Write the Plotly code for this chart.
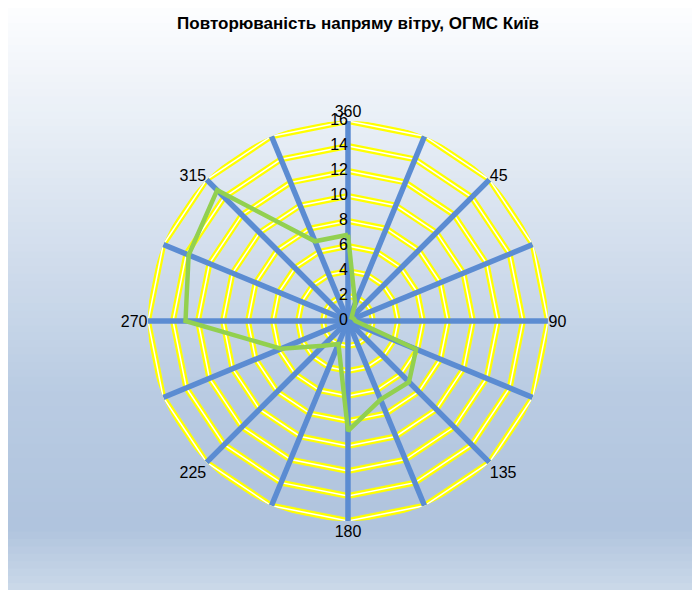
import plotly.graph_objects as go

directions = [0, 22.5, 45, 67.5, 90, 112.5, 135, 157.5, 180, 202.5, 225, 247.5, 270, 292.5, 315, 337.5]
frequency = [6.9, 1.5, 0.4, 0.5, 0.6, 5.9, 6.9, 6.8, 8.8, 2.0, 2.8, 5.8, 13.0, 13.8, 14.8, 6.9]
label_angles = [0, 45, 90, 135, 180, 225, 270, 315]
label_text = ["360", "45", "90", "135", "180", "225", "270", "315"]
rings = [2, 4, 6, 8, 10, 12, 14, 16]
radial_labels = [0, 2, 4, 6, 8, 10, 12, 14, 16]

fig = go.Figure()

# background gradient built from thin bands
stops = [(0.0, (207, 220, 235)), (0.12, (176, 196, 222)), (0.35, (186, 204, 227)), (1.0, (253, 254, 255))]
n = 80
for i in range(n):
    y0 = i / n
    y1 = (i + 1) / n
    t = (y0 + y1) / 2
    for (a, ca), (b, cb) in zip(stops[:-1], stops[1:]):
        if a <= t <= b:
            f = (t - a) / (b - a)
            c = tuple(int(ca[k] + (cb[k] - ca[k]) * f) for k in range(3))
    fig.add_shape(type="rect", xref="paper", yref="paper", x0=-0.02, x1=1.02, y0=y0, y1=y1 + 0.002,
                  fillcolor="rgb(%d,%d,%d)" % c, line_width=0, layer="below")

ring_theta = directions + [directions[0]]
for r in rings:
    fig.add_trace(go.Scatterpolar(r=[r] * len(ring_theta), theta=ring_theta, mode="lines",
                                  line=dict(color="#ffff00", width=6), hoverinfo="skip", showlegend=False))
    fig.add_trace(go.Scatterpolar(r=[r] * len(ring_theta), theta=ring_theta, mode="lines",
                                  line=dict(color="white", width=1.5), hoverinfo="skip", showlegend=False))

for d in directions:
    fig.add_trace(go.Scatterpolar(r=[0, 16], theta=[d, d], mode="lines",
                                  line=dict(color="#5b8cd2", width=5.5), hoverinfo="skip", showlegend=False))

fig.add_trace(go.Scatterpolar(r=frequency + [frequency[0]], theta=directions + [directions[0]],
                              mode="lines", line=dict(color="#92d050", width=4.5), showlegend=False))

# radial tick labels, left of the north spoke
fig.add_trace(go.Scatterpolar(r=radial_labels, theta=[0] * len(radial_labels), mode="text",
                              text=[str(v) for v in radial_labels], textposition="middle left",
                              textfont=dict(size=16, color="black"), hoverinfo="skip", showlegend=False))

fig.update_layout(
    width=700, height=590,
    margin=dict(l=0, r=0, t=0, b=0),
    paper_bgcolor="white",
    title=dict(text="<b>Повторюваність напряму вітру, ОГМС Київ</b>", x=0.5, y=0.985, yanchor="top",
               xanchor="center", font=dict(family="Liberation Sans, Arial", size=17, color="black")),
    font=dict(family="Liberation Sans, Arial", color="black"),
    polar=dict(
        bgcolor="rgba(0,0,0,0)",
        domain=dict(x=[0.2, 0.7714], y=[0.1305, 0.8085]),
        radialaxis=dict(range=[0, 16], showticklabels=False, angle=90,
                        showgrid=False, showline=False, ticks=""),
        angularaxis=dict(direction="clockwise", rotation=90, tickvals=label_angles, ticktext=label_text,
                         showgrid=False, showline=False, ticks="", tickfont=dict(size=16)),
    ),
)

fig.write_html("out.html")
